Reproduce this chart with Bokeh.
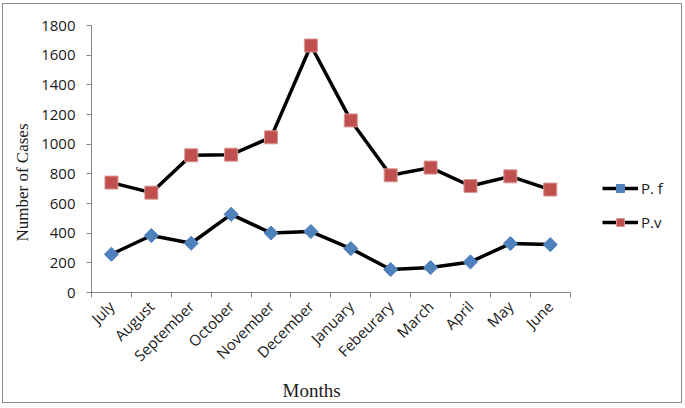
import numpy as np
from bokeh.plotting import figure
from bokeh.models import Range1d, FixedTicker, Legend, LegendItem, Title
from bokeh.embed import file_html
from bokeh.resources import INLINE

months = ["July", "August", "September", "October", "November", "December",
          "January", "Febeurary", "March", "April", "May", "June"]
pf = [258, 384, 332, 527, 401, 411, 296, 155, 168, 206, 330, 323]
pv = [741, 673, 925, 929, 1046, 1665, 1160, 790, 842, 718, 783, 694]
y_ticks = list(range(0, 1801, 200))

n = len(months)
x = [i + 0.5 for i in range(n)]
bounds = list(range(n + 1))

# extra room on the right of the x range holds the legend
p = figure(width=680, height=400, output_backend="svg", toolbar_location=None,
           x_range=Range1d(0, n * 583 / 482), y_range=Range1d(0, 1800),
           min_border_left=83, min_border_right=13, min_border_top=21,
           min_border_bottom=112)
p.styles = {"border": "1px solid #8c8c8c", "margin": "3px 0 0 2px"}
p.outline_line_color = None
p.xgrid.visible = False
p.ygrid.visible = False

AX = "#868686"
# x axis
p.xaxis.bounds = (0, n)
p.xaxis.ticker = FixedTicker(ticks=x, minor_ticks=bounds)
p.xaxis.major_label_overrides = {v: m for v, m in zip(x, months)}
p.xaxis.major_tick_line_color = None
p.xaxis.minor_tick_line_color = AX
p.xaxis.minor_tick_out = 5
p.xaxis.minor_tick_in = 0
p.xaxis.axis_line_color = AX
p.xaxis.major_label_orientation = np.pi / 4
p.xaxis.major_label_text_font = "Open Sans"
p.xaxis.major_label_text_font_size = "15px"
p.xaxis.major_label_text_color = "#1a1a1a"

# y axis
p.yaxis.ticker = FixedTicker(ticks=y_ticks)
p.yaxis.minor_tick_line_color = None
p.yaxis.major_tick_in = 0
p.yaxis.major_tick_out = 5
p.yaxis.major_tick_line_color = AX
p.yaxis.axis_line_color = AX
p.yaxis.major_label_standoff = 11
p.yaxis.major_label_text_font = "Open Sans"
p.yaxis.major_label_text_font_size = "15px"
p.yaxis.major_label_text_color = "#1a1a1a"

xtitle = Title(text="Months", align="left", offset=191, standoff=4,
               text_font="Liberation Serif", text_font_style="normal",
               text_font_size="19px", text_color="#1a1a1a")
p.add_layout(xtitle, "below")
ytitle = Title(text="Number of Cases", align="left", offset=51, standoff=14,
               text_font="Liberation Serif", text_font_style="normal",
               text_font_size="17px", text_color="#1a1a1a")
p.add_layout(ytitle, "left")

l1 = p.line(x, pf, line_color="black", line_width=3.5)
s1 = p.scatter(x, pf, marker="square", angle=np.pi / 4, size=10,
               fill_color="#4F81BD", line_color="#4F81BD")
l2 = p.line(x, pv, line_color="black", line_width=3.5)
s2 = p.scatter(x, pv, marker="square", size=13,
               fill_color="#C0504D", line_color="#D99694", line_width=1)

legend = Legend(items=[LegendItem(label="P. f", renderers=[l1, s1]),
                       LegendItem(label="P.v", renderers=[l2, s2])],
                location=(511, 60))
legend.glyph_width = 36
legend.glyph_height = 20
legend.spacing = 14
legend.padding = 0
legend.margin = 0
legend.label_standoff = 3
legend.border_line_color = None
legend.background_fill_alpha = 0
legend.label_text_font = "Open Sans"
legend.label_text_font_size = "15px"
legend.label_text_color = "#1a1a1a"
p.add_layout(legend)

open("out.html", "w").write(file_html(p, INLINE))
